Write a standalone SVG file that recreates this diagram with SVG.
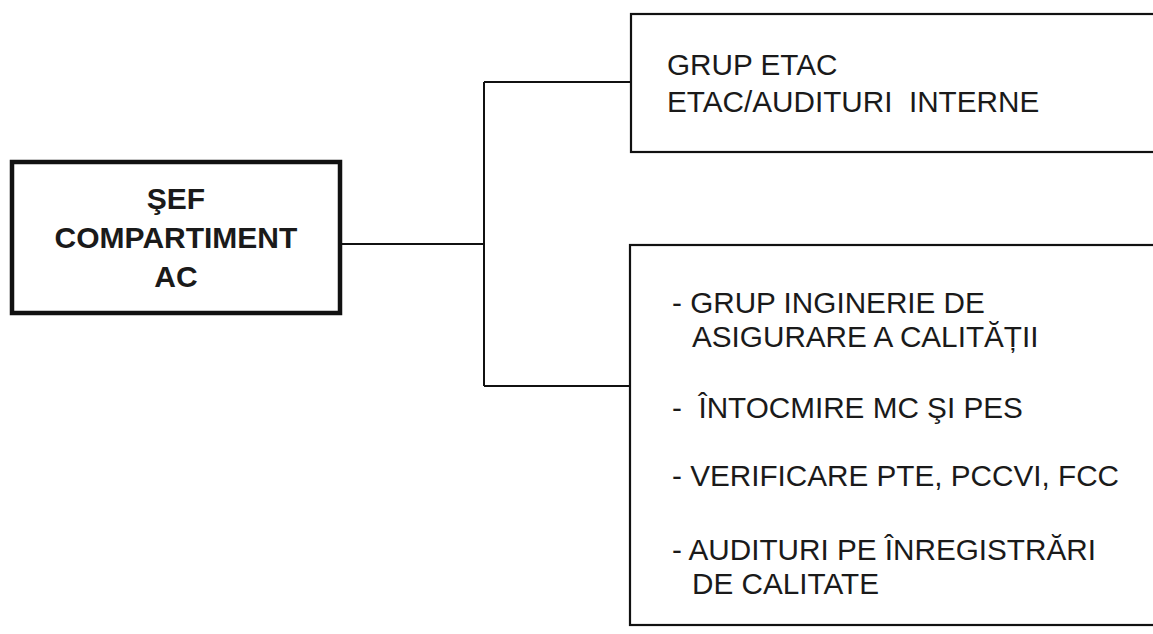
<svg xmlns="http://www.w3.org/2000/svg" width="1153" height="634" viewBox="0 0 1153 634">
<style>
.bg{fill:#ffffff}
.box{fill:#ffffff;stroke:#111;stroke-width:2.2}
.main{fill:#ffffff;stroke:#111;stroke-width:4.5}
.conn{fill:none;stroke:#111;stroke-width:2}
.t{font-family:"Liberation Sans",Arial,sans-serif;font-size:29.7px;fill:#1a1a1a}
.b{font-family:"Liberation Sans",Arial,sans-serif;font-size:30px;font-weight:bold;fill:#1a1a1a;text-anchor:middle}
</style>
<rect class="bg" x="0" y="0" width="1153" height="634"/>
<g id="connectors">
<path class="conn" d="M340 244 H484"/>
<path class="conn" d="M484 82 V386"/>
<path class="conn" d="M484 82 H631"/>
<path class="conn" d="M484 386 H630"/>
</g>
<g id="node-sef">
<rect class="main" x="12" y="162" width="328" height="151"/>
<text class="b" x="176" y="209">ŞEF</text>
<text class="b" x="176" y="248">COMPARTIMENT</text>
<text class="b" x="176" y="287">AC</text>
</g>
<g id="node-etac">
<rect class="box" x="631" y="14" width="540" height="138"/>
<text class="t" x="667" y="75">GRUP ETAC</text>
<text class="t" x="667" y="112" xml:space="preserve">ETAC/AUDITURI  INTERNE</text>
</g>
<g id="node-asigurare">
<rect class="box" x="630" y="245" width="540" height="380"/>
<text class="t" x="672" y="313">- GRUP INGINERIE DE</text>
<text class="t" x="692" y="347">ASIGURARE A CALITĂȚII</text>
<text class="t" x="672" y="418" xml:space="preserve">-  ÎNTOCMIRE MC ŞI PES</text>
<text class="t" x="672" y="486">- VERIFICARE PTE, PCCVI, FCC</text>
<text class="t" x="672" y="560">- AUDITURI PE ÎNREGISTRĂRI</text>
<text class="t" x="692" y="594">DE CALITATE</text>
</g>
</svg>
